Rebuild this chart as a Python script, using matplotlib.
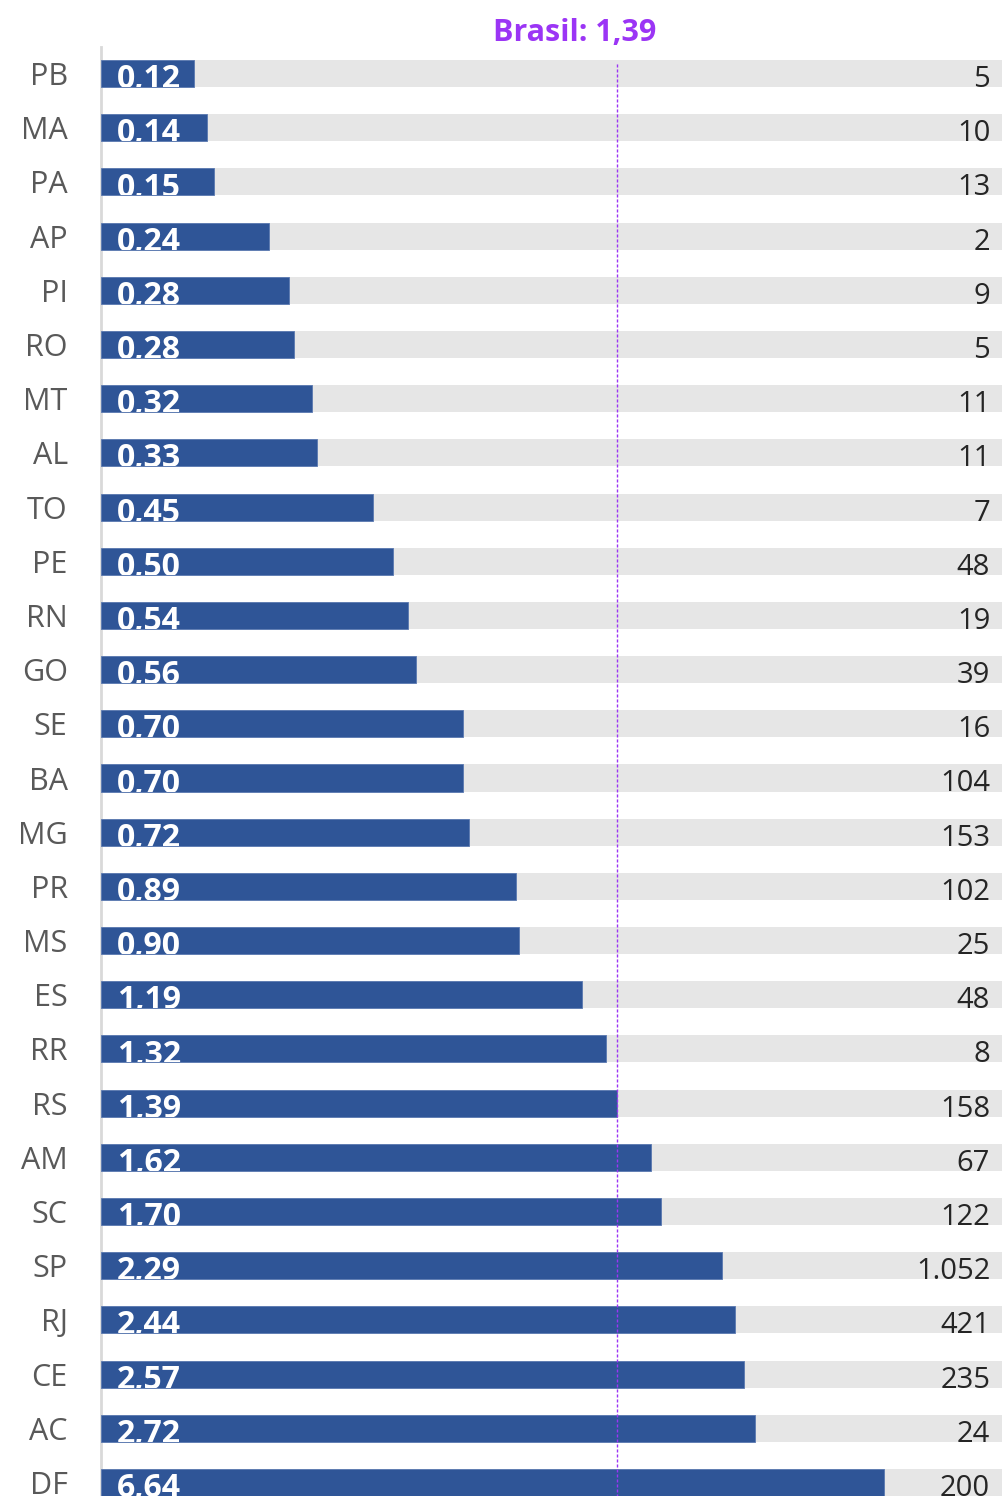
import numpy as np
import matplotlib
matplotlib.use('Agg')
import matplotlib.pyplot as plt

#%% Data
estados = ['PB', 'MA', 'PA', 'AP', 'PI', 'RO', 'MT', 'AL', 'TO', 'PE', 'RN', 'GO', 'SE', 'BA',
           'MG', 'PR', 'MS', 'ES', 'RR', 'RS', 'AM', 'SC', 'SP', 'RJ', 'CE', 'AC', 'DF']
taxa = [0.12, 0.14, 0.15, 0.24, 0.276, 0.284, 0.32, 0.33, 0.45, 0.50, 0.54, 0.56, 0.70, 0.70,
        0.72, 0.89, 0.90, 1.19, 1.32, 1.39, 1.62, 1.70, 2.29, 2.44, 2.57, 2.72, 6.64]
casos = [5, 10, 13, 2, 9, 5, 11, 11, 7, 48, 19, 39, 16, 104,
         153, 102, 25, 48, 8, 158, 67, 122, 1052, 421, 235, 24, 200]
brasil = 1.39

plt.rcParams['font.family'] = ['Open Sans', 'DejaVu Sans']

azul = '#2F5597'
cinza = '#E6E6E6'
roxo = '#9B35F5'

#%% Compressed x scale: bar length ~ x / (x + C)
C = 1.053
def fwd(x):
    x = np.clip(x, 0, None)
    return x / (x + C)

def inv(y):
    y = np.clip(y, 0, 0.999999)
    return C * y / (1 - y)

xmax = 158

#%% Plot
fig = plt.figure(figsize=(10.02, 14.96), dpi=100)
ax = fig.add_axes([101/1002, 0, 1 - 101/1002, 1 - 47/1496])
ax.set_xscale('function', functions=(fwd, inv))

y = np.arange(len(estados))
ax.barh(y, [xmax]*len(y), height=0.5, color=cinza, zorder=1)
bars = ax.barh(y, taxa, height=0.5, color=azul, edgecolor='#5a78b0', linewidth=0.6, zorder=2)

for i, (b, v, n) in enumerate(zip(bars, taxa, casos)):
    # value label inside the bar, cut at the bar's bottom edge
    t = ax.annotate(f'{v:.2f}'.replace('.', ','), xy=(0, i), xytext=(11.5, -10.5),
                    textcoords='offset points', ha='left', va='baseline',
                    fontsize=23, fontweight='bold', color='white', zorder=4,
                    annotation_clip=False)
    t.set_clip_on(True)
    t.set_clip_path(b)
    ax.annotate(f'{n:,}'.replace(',', '.'), xy=(1, i), xycoords=('axes fraction', 'data'),
                xytext=(-8.5, -9.7), textcoords='offset points', ha='right', va='baseline',
                fontsize=21, color='#252525', zorder=4)

# Brasil reference line
ax.vlines(brasil, len(y) - 0.5, -0.22, colors=roxo, linestyles=(0, (2.2, 1.4)), linewidth=1, zorder=3)
fig.text(575/1002, 1 - 33/1496, 'Brasil: 1,39', ha='center', va='center',
         fontsize=22, fontweight='bold', color=roxo)

ax.set_xlim(0, xmax)
ax.set_ylim(len(y) - 1 + 0.25, -0.49)
ax.set_yticks(y, estados)
ax.tick_params(axis='y', length=0, pad=24, labelsize=22, labelcolor='#595959')
ax.tick_params(axis='x', bottom=False, labelbottom=False)
ax.xaxis.set_minor_locator(matplotlib.ticker.NullLocator())
for s in ['top', 'right', 'bottom']:
    ax.spines[s].set_visible(False)
ax.spines['left'].set_color('#D9D9D9')
ax.spines['left'].set_linewidth(2)
ax.spines['left'].set_zorder(0.5)

fig.savefig('out.png', dpi=100)
